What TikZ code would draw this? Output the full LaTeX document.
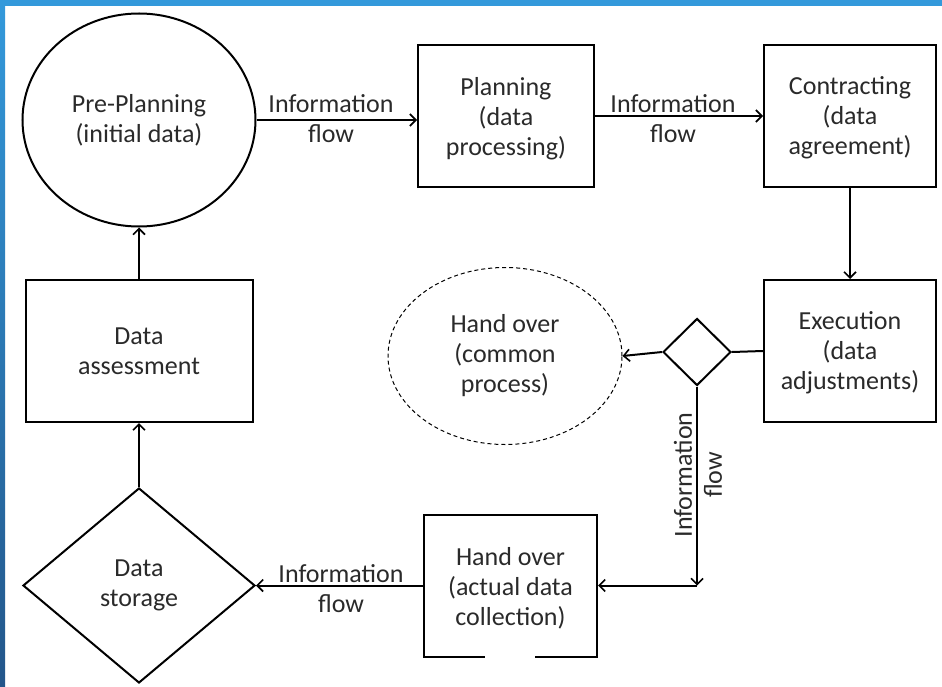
\documentclass[tikz,border=0pt]{standalone}
\usepackage{fontspec}
\setmainfont{Carlito}
\usetikzlibrary{shapes.geometric,arrows.meta}
\definecolor{bandtop}{HTML}{3399DB}
\definecolor{bandbot}{HTML}{23568A}
\definecolor{txt}{HTML}{2A2A2A}
\tikzset{
  x=1pt,y=1pt,
  every node/.style={font=\fontsize{26}{30}\selectfont, align=center, text=txt},
  box/.style={draw, line width=2pt, rectangle, minimum height=142pt, inner sep=0pt, text depth=0pt},
  oval/.style={draw, line width=2pt, ellipse, inner sep=0pt},
  dmd/.style={draw, line width=2pt, diamond, inner sep=0pt},
  conn/.style={line width=2pt},
  arr/.style={line width=2pt, -{Straight Barb[length=6pt,width=12pt,line width=1.6pt]}},
  lbl/.style={inner sep=0pt}
}
\begin{document}
\begin{tikzpicture}
\useasboundingbox (0,0) rectangle (942,-687);
\fill[white] (0,0) rectangle (942,-687);
% blue frame
\fill[bandtop] (0,0) rectangle (942,-6);
\shade[top color=bandtop, bottom color=bandbot] (0,0) rectangle (5,-687);

% nodes
\node[oval, minimum width=233pt, minimum height=213pt] (pre) at (139,-120) {Pre-Planning\\(initial data)};
\node[box, minimum width=176pt] (plan) at (506,-116) {Planning\\(data\\processing)};
\node[box, minimum width=172pt] (contr) at (850,-116) {Contracting\\(data\\agreement)};
\node[box, minimum width=172pt] (exec) at (850,-351) {Execution\\(data\\adjustments)};
\node[box, minimum width=227pt] (assess) at (139,-351) {Data\\assessment};
\node[dmd, minimum width=232pt, minimum height=195pt] (store) at (139,-585.5) {Data\\storage};
\node[dmd, minimum width=68pt, minimum height=67pt] (dec) at (697,-352) {};
\node[oval, dashed, line width=1pt, dash pattern=on 4pt off 3pt, minimum width=234pt, minimum height=177pt] (hoc) at (505,-356) {Hand over\\(common\\process)};
\node[box, minimum width=173pt] (hoa) at (510.5,-586) {Hand over\\(actual data\\collection)};
\coordinate (corner) at (697,-585.5);

% connectors
\draw[arr] (pre.east) -- (plan.west |- pre.east);
\draw[arr] (plan.east) -- (contr.west);
\draw[arr] (contr.south) -- (exec.north);
\draw[conn] (exec.west) -- (dec.east);
\draw[arr] (dec.west) -- (hoc.east);
\draw[arr] (dec.south) -- (corner);
\draw[arr] (corner) -- (hoa.east |- corner);
\draw[arr] (hoa.west |- store.east) -- (store.east);
\draw[arr] (store.north) -- (assess.south);
\draw[arr] (assess.north) -- (pre.south);

% labels
\node[lbl] (l1) at (331,-119) {Information\\flow};
\node[lbl] (l2) at (673,-119) {Information\\flow};
\node[lbl, rotate=90] (l3) at (698,-475) {Information\\flow};
\node[lbl] (l4) at (341,-589) {Information\\flow};

% small gap in bottom border
\fill[white] (485,-654) rectangle (535,-662);
\end{tikzpicture}
\end{document}
